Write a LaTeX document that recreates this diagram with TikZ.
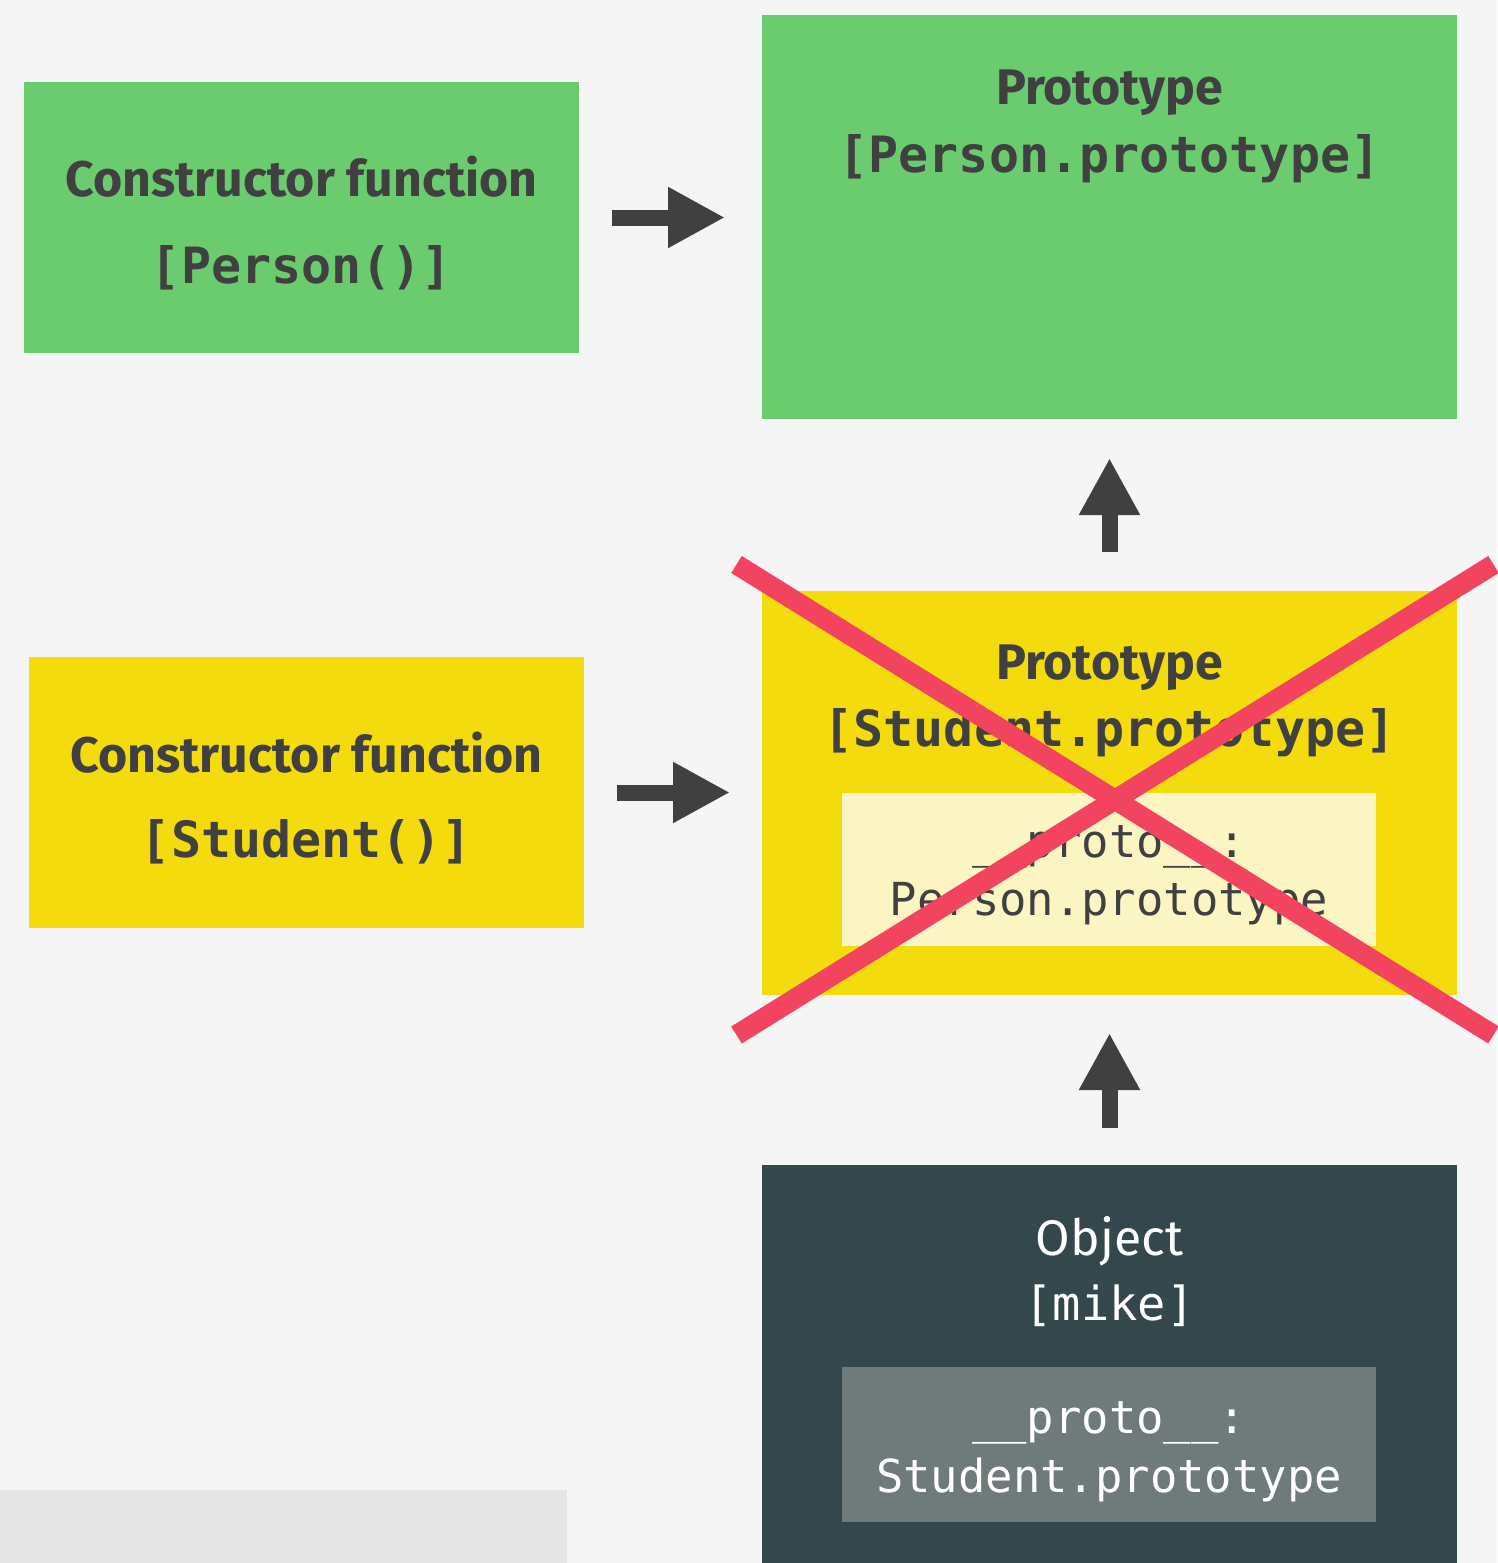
\documentclass[tikz,border=0pt]{standalone}
\usepackage{fontspec}
\usetikzlibrary{arrows.meta}
\newfontfamily\tfont{Fira Sans}
\newfontfamily\mfont{DejaVu Sans Mono}
\definecolor{bgc}{HTML}{F5F5F5}
\definecolor{greenc}{HTML}{6BCB6F}
\definecolor{yellowc}{HTML}{F3DB0D}
\definecolor{lyellowc}{HTML}{FBF5C4}
\definecolor{darkc}{HTML}{34474D}
\definecolor{grayc}{HTML}{6F7B7A}
\definecolor{txtc}{HTML}{404040}
\definecolor{redc}{HTML}{F2445F}
\definecolor{lowc}{HTML}{E5E5E5}
\begin{document}
\begin{tikzpicture}[x=1pt,y=-1pt,
  box/.style={rectangle,draw=none,inner sep=0pt,outer sep=0pt},
  ttl/.style={anchor=base,inner sep=0pt,text=txtc,font=\tfont\bfseries\fontsize{50}{60}\selectfont},
  ttlw/.style={anchor=base,inner sep=0pt,text=white,font=\tfont\fontsize{50}{60}\selectfont},
  monob/.style={anchor=base,inner sep=0pt,text=txtc,font=\mfont\bfseries\fontsize{50}{60}\selectfont},
  monos/.style={anchor=base,inner sep=0pt,text=txtc,font=\mfont\fontsize{45.5}{55}\selectfont},
  monow/.style={anchor=base,inner sep=0pt,text=white,font=\mfont\fontsize{47}{56}\selectfont},
  monosw/.style={anchor=base,inner sep=0pt,text=white,font=\mfont\fontsize{45.5}{55}\selectfont},
  arr/.style={draw=txtc,line width=16pt,-{Triangle[length=57pt,width=57pt]}},
  xline/.style={draw=redc,line width=20pt}
]
\fill[bgc] (0,0) rectangle (1497,1563);
\useasboundingbox (0,0) rectangle (1497,1563);
\fill[lowc] (0,1490) rectangle (567,1563);

% boxes
\node[box,fill=greenc,minimum width=555pt,minimum height=271pt] (cg) at (301.5,217.5) {};
\node[box,fill=greenc,minimum width=695pt,minimum height=404pt] (pg) at (1109.5,217) {};
\node[box,fill=yellowc,minimum width=555pt,minimum height=271pt] (cy) at (306.5,792.5) {};
\node[box,fill=yellowc,minimum width=695pt,minimum height=404pt] (py) at (1109.5,793) {};
\node[box,fill=lyellowc,minimum width=534pt,minimum height=153pt] (iy) at (1109,869.5) {};
\node[box,fill=darkc,minimum width=695pt,minimum height=430pt] (ob) at (1109.5,1380) {};
\node[box,fill=grayc,minimum width=534pt,minimum height=155pt] (ig) at (1109,1444.5) {};

% texts
\node[ttl] (cgt1) at (301.5,196) {Constructor function};
\node[monob] (cgt2) at (301.5,283) {[Person()]};
\node[ttl] (pgt1) at (1109.5,104) {Prototype};
\node[monob] (pgt2) at (1109.5,172) {[Person.prototype]};
\node[ttl] (cyt1) at (306.5,772) {Constructor function};
\node[monob] (cyt2) at (306.5,857) {[Student()]};
\node[ttl] (pyt1) at (1109.5,679) {Prototype};
\node[monob] (pyt2) at (1109.5,746) {[Student.prototype]};
\node[monos] (iyt1) at (1109,857) {\_\_proto\_\_:};
\node[monos] (iyt2) at (1109,915) {Person.prototype};
\node[ttlw] (obt1) at (1109.5,1255) {Object};
\node[monow] (obt2) at (1109.5,1320) {[mike]};
\node[monosw] (igt1) at (1109,1433) {\_\_proto\_\_:};
\node[monosw] (igt2) at (1109,1492) {Student.prototype};

% arrows
\draw[arr] ([xshift=33pt]cg.east) -- ([xshift=-37pt]cg.east -| pg.west);
\draw[arr] ([xshift=33pt]cy.east) -- ([xshift=-32pt]cy.east -| py.west);
\draw[arr] ([yshift=39pt]py.north) -- ([yshift=-39pt]pg.south);
\draw[arr] ([yshift=37pt]ob.north) -- ([yshift=-38pt]py.south);

% red cross
\draw[xline] (736.5,564.5) -- (1493.5,1035);
\draw[xline] (736.5,1035) -- (1493.5,564.5);
\end{tikzpicture}
\end{document}
